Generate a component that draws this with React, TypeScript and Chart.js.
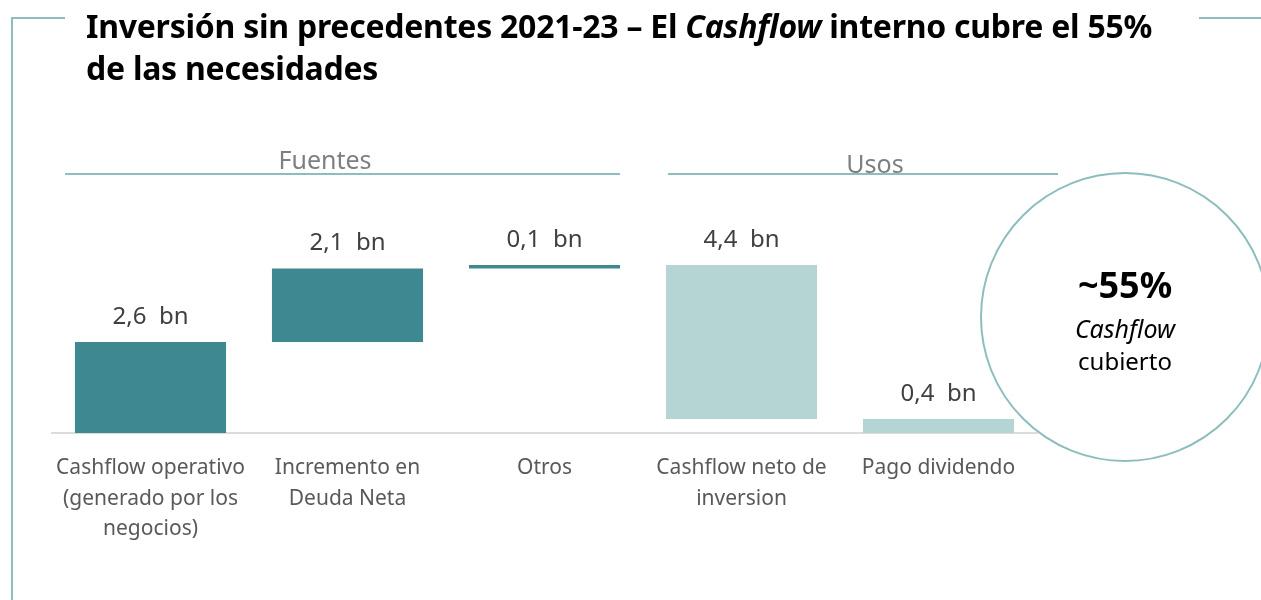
import React, { useEffect, useRef } from "react";
import { Chart, registerables } from "chart.js";

Chart.register(...registerables);

// ---- data ----
const categories: string[][] = [
  ["Cashflow operativo", "(generado por los", "negocios)"],
  ["Incremento en", "Deuda Neta"],
  ["Otros"],
  ["Cashflow neto de", "inversion"],
  ["Pago dividendo"],
];
const amounts = [2.6, 2.1, 0.1, 4.4, 0.4];
const kinds = ["fuente", "fuente", "fuente", "uso", "uso"];
const valueLabels = ["2,6  bn", "2,1  bn", "0,1  bn", "4,4  bn", "0,4  bn"];

const FONT = "'Noto Sans', 'Open Sans', sans-serif";
const DARK = "#3d8891";
const LIGHT = "#b5d5d5";
const FRAME = "#8dbdbd";

// floating ranges built from the amounts (waterfall)
function buildRanges(): [number, number][] {
  let cum = 0;
  return amounts.map((v, i) => {
    if (kinds[i] === "fuente") {
      const r: [number, number] = [cum, cum + v];
      cum += v;
      return r;
    }
    const r: [number, number] = [cum - v, cum];
    cum -= v;
    return r;
  });
}

const labelPlugin = {
  id: "valueLabels",
  afterDatasetsDraw(chart: any) {
    const { ctx } = chart;
    const meta = chart.getDatasetMeta(0);
    ctx.save();
    ctx.font = `24px ${FONT}`;
    ctx.fillStyle = "#404040";
    ctx.textAlign = "center";
    ctx.textBaseline = "middle";
    meta.data.forEach((el: any, i: number) => {
      const top = Math.min(el.y, el.base);
      ctx.fillText(valueLabels[i], el.x, top - 25);
    });
    ctx.restore();
  },
};

export default function App() {
  const ref = useRef<HTMLCanvasElement | null>(null);

  useEffect(() => {
    document.body.style.margin = "0";
    const canvas = ref.current;
    if (!canvas) return;
    const chart = new Chart(canvas, {
      type: "bar",
      data: {
        labels: categories,
        datasets: [
          {
            data: buildRanges() as any,
            backgroundColor: kinds.map((k) => (k === "fuente" ? DARK : LIGHT)),
            borderWidth: 0,
            borderSkipped: false,
            categoryPercentage: 1,
            barPercentage: 0.767,
          },
        ],
      },
      options: {
        responsive: false,
        animation: false,
        devicePixelRatio: 1,
        layout: { padding: { left: 52, right: 224, top: 188, bottom: 47 } },
        plugins: {
          legend: { display: false },
          tooltip: { enabled: false },
          title: { display: false },
        },
        scales: {
          x: {
            grid: { display: false },
            border: { display: true, color: "#dcdcdc", width: 2 },
            ticks: {
              color: "#595959",
              font: { family: FONT, size: 21, lineHeight: 1.45 },
              padding: 12,
              maxRotation: 0,
              autoSkip: false,
            },
            afterFit: (scale: any) => {
              scale.height = 120;
            },
          },
          y: { display: false, min: 0, max: 7 },
        },
      },
      plugins: [labelPlugin],
    });
    return () => chart.destroy();
  }, []);

  const line = (l: number, t: number, w: number, h: number, c: string) => (
    <div style={{ position: "absolute", left: l, top: t, width: w, height: h, background: c }} />
  );

  return (
    <div style={{ position: "fixed", left: 0, top: 0, width: 1261, height: 600, overflow: "hidden", background: "#fff", fontFamily: FONT }}>
      <canvas ref={ref} width={1261} height={600} style={{ position: "absolute", left: 0, top: 0 }} />
      {/* frame */}
      {line(11, 17, 2, 583, FRAME)}
      {line(11, 17, 54, 2, FRAME)}
      {line(1199, 17, 62, 2, FRAME)}
      {/* title */}
      <div style={{ position: "absolute", left: 86, top: 5, width: 1120, fontWeight: 700, fontSize: 32, lineHeight: "42px", letterSpacing: "-0.25px", color: "#000", whiteSpace: "nowrap" }}>
        Inversión sin precedentes 2021-23 – El <i>Cashflow</i> interno cubre el 55%
        <br />
        de las necesidades
      </div>
      {/* section headers */}
      <div style={{ position: "absolute", left: 225, top: 144, width: 200, textAlign: "center", fontSize: 25, lineHeight: "30px", color: "#7f7f7f" }}>Fuentes</div>
      {line(65, 173, 555, 2, FRAME)}
      <div style={{ position: "absolute", left: 775, top: 148, width: 200, textAlign: "center", fontSize: 25, lineHeight: "30px", color: "#7f7f7f" }}>Usos</div>
      {line(668, 173, 390, 2, FRAME)}
      {/* circle */}
      <div
        style={{
          position: "absolute",
          left: 980,
          top: 172,
          width: 286,
          height: 286,
          borderRadius: "50%",
          border: `2px solid ${FRAME}`,
          background: "transparent",
          textAlign: "center",
          color: "#000",
        }}
      >
        <div style={{ position: "absolute", left: 0, right: 0, top: 91, fontSize: 36, fontWeight: 700, lineHeight: "40px" }}>~55%</div>
        <div style={{ position: "absolute", left: 0, right: 0, top: 140, fontSize: 25, fontStyle: "italic", lineHeight: "28px" }}>Cashflow</div>
        <div style={{ position: "absolute", left: 0, right: 0, top: 173, fontSize: 24, lineHeight: "28px" }}>cubierto</div>
      </div>
    </div>
  );
}
